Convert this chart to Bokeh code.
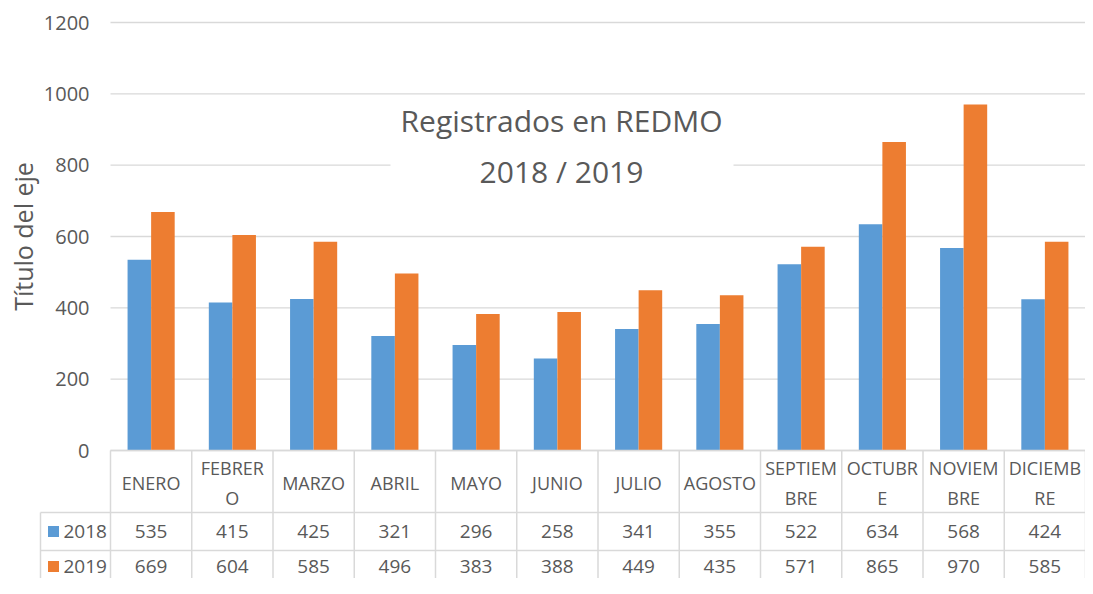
import math
from bokeh.plotting import figure
from bokeh.models import Range1d, BoxAnnotation, Label, ColumnDataSource
from bokeh.embed import file_html
from bokeh.resources import INLINE
from bokeh.core.properties import value

# ---------------- data ----------------
months = ["ENERO", "FEBRER\nO", "MARZO", "ABRIL", "MAYO", "JUNIO", "JULIO",
          "AGOSTO", "SEPTIEM\nBRE", "OCTUBR\nE", "NOVIEM\nBRE", "DICIEMB\nRE"]
series_names = ["2018", "2019"]
v2018 = [535, 415, 425, 321, 296, 258, 341, 355, 522, 634, 568, 424]
v2019 = [669, 604, 585, 496, 383, 388, 449, 435, 571, 865, 970, 585]
y_ticks = [0, 200, 400, 600, 800, 1000, 1200]
y_tick_labels = ["0", "200", "400", "600", "800", "1000", "1200"]
title_lines = ["Registrados en REDMO", "2018 / 2019"]
y_title = "Título del eje"

# ---------------- style / layout ----------------
colors = ["#5B9BD5", "#ED7D31"]
TXT = "#595959"
GRID = "#D9D9D9"
FONT = "Open Sans"
W, H = 1085, 578
LEFT_PX = 110                 # figure-left to plot-area-left, px
TOP_PX = 22                   # figure top to value 1200, px
BASE_PX = 450                 # figure top to value 0, px
N = len(months)
CAT_PX = (W - LEFT_PX) / N    # px per category
S = (BASE_PX - TOP_PX) / 1200 # px per value unit
BAR_W = 0.29
ROW_LINES = [0, 62, 100]      # table row borders, px below value 0
HDR_Y1, HDR_Y2A, HDR_Y2B = 32, 17, 47
ROW_Y = [81, 116]


def px_x(px):
    """horizontal px offset from plot-area left -> category units"""
    return px / CAT_PX


series = [v2018, v2019]

p = figure(width=W, height=H,
           x_range=Range1d(-LEFT_PX / CAT_PX, N),
           y_range=Range1d(-(H - BASE_PX) / S, BASE_PX / S),
           output_backend="svg", toolbar_location=None,
           x_axis_type=None, y_axis_type=None,
           min_border_left=0, min_border_right=0, min_border_top=0, min_border_bottom=0)
p.outline_line_color = None
# table coordinate system: px below value 0 (downwards positive)
p.extra_y_ranges = {"tbl": Range1d(H - BASE_PX, -BASE_PX)}

# ---- gridlines and y tick labels ----
p.segment(x0=[0] * len(y_ticks), x1=[N] * len(y_ticks), y0=y_ticks, y1=y_ticks,
          line_color=GRID, line_width=1.3)
p.text(x=[px_x(-21)] * len(y_ticks), y=y_ticks, text=y_tick_labels,
       text_align="right", text_baseline="middle", text_font=value(FONT),
       text_font_size="20px", text_color=TXT)
p.text(x=[px_x(-88)], y=[(y_ticks[0] + y_ticks[-1]) / 2], text=[y_title], angle=math.pi / 2,
       text_align="center", text_baseline="middle", text_font=value(FONT),
       text_font_size="25px", text_color=TXT)

# ---- bars ----
for k, vals in enumerate(series):
    off = (k - 0.5) * BAR_W
    src = ColumnDataSource(dict(x=[i + 0.5 + off for i in range(N)], top=vals))
    p.vbar(x="x", top="top", width=BAR_W, source=src, color=colors[k], line_color=None)

# ---- title box ----
p.add_layout(BoxAnnotation(left=px_x(280), right=px_x(623), bottom=680, top=985,
                           fill_color="white", fill_alpha=1.0, line_color=None))
for j, t in enumerate(title_lines):
    p.add_layout(Label(x=px_x(451), y=[925, 781][j], text=t, text_align="center",
                       text_baseline="middle", text_font=FONT, text_font_size="30px",
                       text_color=TXT))

# ---- data table ----
LBL_X = px_x(-70)
x0 = [0, LBL_X, LBL_X] + list(range(N + 1)) + [LBL_X]
x1 = [N, N, N] + list(range(N + 1)) + [LBL_X]
y0 = [ROW_LINES[0], ROW_LINES[1], ROW_LINES[2]] + [0] * (N + 1) + [ROW_LINES[1]]
y1 = [ROW_LINES[0], ROW_LINES[1], ROW_LINES[2]] + [200] * (N + 1) + [200]
p.segment(x0=x0, y0=y0, x1=x1, y1=y1, line_color=GRID, line_width=1.5, y_range_name="tbl")

hx, hy, ht = [], [], []
for i, m in enumerate(months):
    parts = m.split("\n")
    if len(parts) == 1:
        hx.append(i + 0.5); hy.append(HDR_Y1); ht.append(parts[0])
    else:
        hx += [i + 0.5, i + 0.5]; hy += [HDR_Y2A, HDR_Y2B]; ht += parts
p.text(x=hx, y=hy, text=ht, text_align="center", text_baseline="middle",
       text_font=value(FONT), text_font_size="18px", text_color=TXT, y_range_name="tbl")

for k, vals in enumerate(series):
    p.text(x=[i + 0.5 for i in range(N)], y=[ROW_Y[k]] * N, text=[str(v) for v in vals],
           text_align="center", text_baseline="middle", text_font=value(FONT),
           text_font_size="19px", text_color=TXT, y_range_name="tbl")
    p.rect(x=[px_x(-57)], y=[ROW_Y[k]], width=11, height=11, width_units="screen",
           height_units="screen", color=colors[k], line_color=None, y_range_name="tbl")
    p.text(x=[px_x(-47)], y=[ROW_Y[k]], text=[series_names[k]], text_align="left",
           text_baseline="middle", text_font=value(FONT), text_font_size="19px",
           text_color=TXT, y_range_name="tbl")

open("out.html", "w").write(file_html(p, INLINE))
